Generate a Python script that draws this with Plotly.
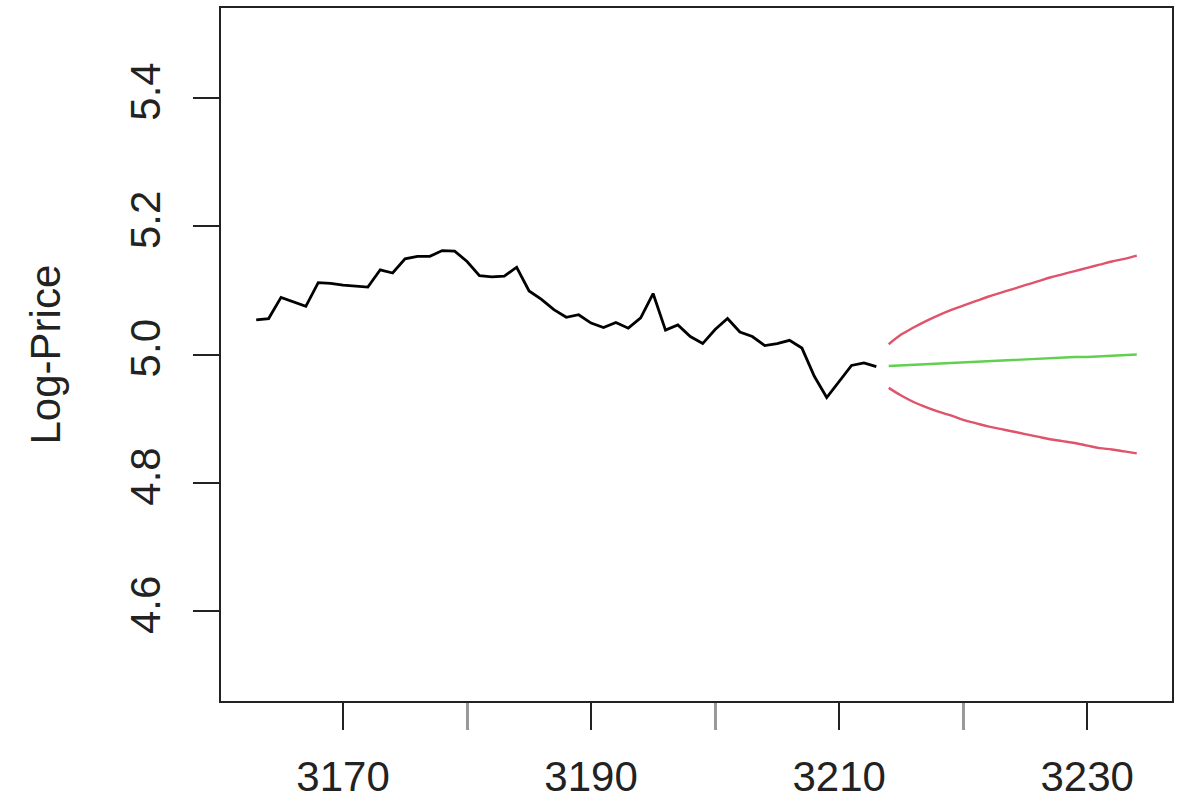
import plotly.graph_objects as go

# Observed log-price series (time index 3163..3213)
hist_t = list(range(3163, 3214))
hist_y = [5.054, 5.056, 5.089, 5.082, 5.075, 5.112, 5.111, 5.108, 5.106, 5.105,
          5.132, 5.127, 5.149, 5.153, 5.153, 5.162, 5.161, 5.145, 5.123, 5.121,
          5.122, 5.136, 5.099, 5.086, 5.070, 5.058, 5.062, 5.049, 5.042, 5.050,
          5.041, 5.057, 5.095, 5.038, 5.046, 5.028, 5.017, 5.039, 5.056, 5.035,
          5.028, 5.014, 5.017, 5.022, 5.010, 4.966, 4.933, 4.958, 4.983, 4.987,
          4.981]

# Forecast (time index 3214..3234)
fc_t = list(range(3214, 3235))
fc_mean = [4.982, 4.983, 4.984, 4.985, 4.986, 4.987, 4.987, 4.988, 4.989, 4.990,
           4.991, 4.992, 4.993, 4.994, 4.995, 4.996, 4.996, 4.997, 4.998, 4.999,
           5.000]
fc_upper = [5.016, 5.031, 5.042, 5.052, 5.061, 5.069, 5.076, 5.083, 5.090, 5.096,
            5.102, 5.108, 5.114, 5.120, 5.125, 5.130, 5.135, 5.140, 5.145, 5.149,
            5.154]
fc_lower = [4.948, 4.936, 4.926, 4.918, 4.911, 4.905, 4.898, 4.893, 4.888, 4.884,
            4.880, 4.876, 4.872, 4.868, 4.865, 4.862, 4.858, 4.854, 4.852, 4.849,
            4.846]

y_label = "Log-Price"
FONT = "Liberation Sans, Arial, Helvetica, sans-serif"

fig = go.Figure()
fig.add_trace(go.Scatter(x=hist_t, y=hist_y, mode="lines",
                         line=dict(color="black", width=2.8), showlegend=False))
fig.add_trace(go.Scatter(x=fc_t, y=fc_upper, mode="lines",
                         line=dict(color="#DF536B", width=2.4, shape="spline"),
                         showlegend=False))
fig.add_trace(go.Scatter(x=fc_t, y=fc_lower, mode="lines",
                         line=dict(color="#DF536B", width=2.4, shape="spline"),
                         showlegend=False))
fig.add_trace(go.Scatter(x=fc_t, y=fc_mean, mode="lines",
                         line=dict(color="#61D04F", width=2.4), showlegend=False))

fig.update_layout(
    width=1185, height=801,
    margin=dict(l=221, r=13, t=8, b=100),
    paper_bgcolor="white", plot_bgcolor="white",
    font=dict(family=FONT, size=42, color="#222"),
    xaxis=dict(range=[3160.16, 3236.84], showgrid=False, zeroline=False,
               automargin=False,
               showline=True, linecolor="#222", linewidth=1.5, mirror=True,
               ticks="outside", ticklen=27, tickwidth=1.5, tickcolor="#222",
               tick0=3170, dtick=20, ticklabelstandoff=11,
               minor=dict(tick0=3170, dtick=10, ticks="outside", ticklen=27,
                          tickwidth=2.5, tickcolor="#999")),
    yaxis=dict(range=[4.46, 5.54], showgrid=False, zeroline=False,
               automargin=False,
               showline=True, linecolor="#222", linewidth=1.5, mirror=True,
               ticks="outside", ticklen=26, tickwidth=1.5, tickcolor="#222",
               tickvals=[4.6, 4.8, 5.0, 5.2, 5.4], tickformat=".1f",
               tickangle=-90, ticklabelstandoff=16),
    annotations=[dict(text=y_label, xref="paper", yref="paper",
                      x=(45 - 221) / 951, y=0.5, xanchor="center", yanchor="middle",
                      textangle=-90, showarrow=False,
                      font=dict(family=FONT, size=42, color="#222"))],
)

fig.write_html("out.html")
